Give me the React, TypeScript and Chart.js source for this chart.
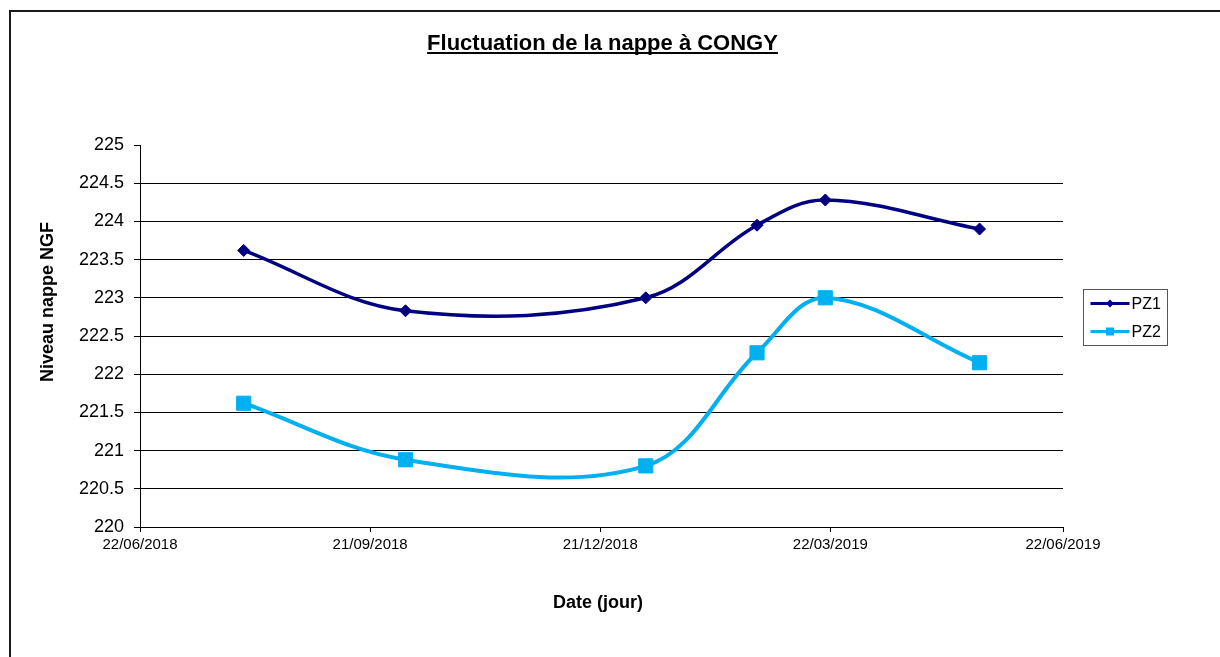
import React, { useEffect, useRef } from "react";
import { Chart, registerables } from "chart.js";

Chart.register(...registerables);

const TITLE = "Fluctuation de la nappe à CONGY";
const Y_TITLE = "Niveau nappe NGF";
const X_TITLE = "Date (jour)";

const dates = ["2018-08-02", "2018-10-05", "2019-01-08", "2019-02-21", "2019-03-20", "2019-05-20"];
const pz1 = [223.62, 222.83, 223.0, 223.95, 224.28, 223.9];
const pz2 = [221.62, 220.88, 220.8, 222.28, 223.0, 222.15];
const xTickDates = ["2018-06-22", "2018-09-21", "2018-12-21", "2019-03-22", "2019-06-22"];
const seriesNames = ["PZ1", "PZ2"];
const Y_MIN = 220;
const Y_MAX = 225;
const Y_STEP = 0.5;

const FONT = "'Liberation Sans', Arial, Helvetica, sans-serif";

function toMs(d: string): number {
  const [y, m, day] = d.split("-").map(Number);
  return Date.UTC(y, m - 1, day);
}
function fmt(ms: number): string {
  const d = new Date(ms);
  const dd = String(d.getUTCDate()).padStart(2, "0");
  const mm = String(d.getUTCMonth() + 1).padStart(2, "0");
  return `${dd}/${mm}/${d.getUTCFullYear()}`;
}

const decorPlugin = {
  id: "decor",
  beforeDraw(chart: any) {
    const ctx = chart.ctx;
    ctx.save();
    ctx.fillStyle = "#ffffff";
    ctx.fillRect(0, 0, chart.width, chart.height);
    ctx.strokeStyle = "#1a1a1a";
    ctx.lineWidth = 2;
    ctx.beginPath();
    ctx.moveTo(10, chart.height);
    ctx.lineTo(10, 11);
    ctx.lineTo(chart.width, 11);
    ctx.stroke();
    ctx.restore();
  },
  afterDraw(chart: any) {
    const ctx = chart.ctx;
    const area = chart.chartArea;
    ctx.save();
    ctx.fillStyle = "#000";
    // Title
    ctx.font = `bold 22px ${FONT}`;
    ctx.textAlign = "center";
    ctx.textBaseline = "alphabetic";
    const cx = (area.left + area.right) / 2 + 1;
    ctx.fillText(TITLE, cx, 50);
    const w = ctx.measureText(TITLE).width;
    ctx.fillRect(cx - w / 2, 52, w, 2);
    // X title
    ctx.font = `bold 18px ${FONT}`;
    ctx.textBaseline = "middle";
    ctx.fillText(X_TITLE, 598, 603);
    // Y title
    ctx.save();
    ctx.translate(48, 302);
    ctx.rotate(-Math.PI / 2);
    ctx.fillText(Y_TITLE, 0, 0);
    ctx.restore();
    // Legend
    const lx = 1083.5, ly = 289.5, lw = 84, lh = 56;
    ctx.strokeStyle = "#555";
    ctx.lineWidth = 1;
    ctx.strokeRect(lx, ly, lw, lh);
    chart.data.datasets.forEach((ds: any, i: number) => {
      const y = ly + 14 + i * 28;
      ctx.strokeStyle = ds.borderColor;
      ctx.lineWidth = 3;
      ctx.beginPath();
      ctx.moveTo(lx + 7, y);
      ctx.lineTo(lx + 46, y);
      ctx.stroke();
      ctx.fillStyle = ds.borderColor;
      const mx = lx + 26.5;
      if (i === 0) {
        ctx.beginPath();
        ctx.moveTo(mx, y - 4);
        ctx.lineTo(mx + 4, y);
        ctx.lineTo(mx, y + 4);
        ctx.lineTo(mx - 4, y);
        ctx.closePath();
        ctx.fill();
      } else {
        ctx.fillRect(mx - 4, y - 4, 8, 8);
      }
      ctx.fillStyle = "#000";
      ctx.font = `16px ${FONT}`;
      ctx.textAlign = "left";
      ctx.textBaseline = "middle";
      ctx.fillText(ds.label, lx + 48, y + 1);
    });
    ctx.restore();
  },
};

export default function App() {
  const ref = useRef<HTMLCanvasElement | null>(null);
  useEffect(() => {
    if (!ref.current) return;
    const xs = dates.map(toMs);
    const chart = new Chart(ref.current, {
      type: "line",
      data: {
        datasets: [
          {
            label: seriesNames[0],
            data: xs.map((x, i) => ({ x, y: pz1[i] })),
            borderColor: "#000080",
            backgroundColor: "#000080",
            borderWidth: 3.5,
            pointStyle: "rectRot",
            pointRadius: 6,
            pointBorderWidth: 1,
            tension: 0.36,
          },
          {
            label: seriesNames[1],
            data: xs.map((x, i) => ({ x, y: pz2[i] })),
            borderColor: "#00B0F0",
            backgroundColor: "#00B0F0",
            borderWidth: 4,
            pointStyle: "rect",
            pointRadius: 10,
            pointBorderWidth: 1,
            tension: 0.36,
          },
        ],
      },
      options: {
        responsive: false,
        animation: false,
        layout: { padding: { top: 145, right: 157, left: 0, bottom: 0 } },
        plugins: {
          legend: { display: false },
          title: { display: false },
          tooltip: { enabled: false },
        },
        scales: {
          x: {
            type: "linear",
            min: toMs(xTickDates[0]),
            max: toMs(xTickDates[xTickDates.length - 1]),
            afterBuildTicks: (scale: any) => {
              scale.ticks = xTickDates.map((d) => ({ value: toMs(d) }));
            },
            afterFit: (scale: any) => {
              scale.height = 130;
            },
            ticks: {
              autoSkip: false,
              maxRotation: 0,
              minRotation: 0,
              padding: 4,
              color: "#000",
              font: { family: FONT, size: 15 },
              callback: (v: any) => fmt(Number(v)),
            },
            grid: {
              drawOnChartArea: false,
              drawTicks: true,
              tickLength: 5,
              tickColor: "#000",
              color: "#000",
            },
            border: { display: true, color: "#000", width: 1 },
          },
          y: {
            type: "linear",
            min: Y_MIN,
            max: Y_MAX,
            afterFit: (scale: any) => {
              scale.width = 140;
            },
            ticks: {
              stepSize: Y_STEP,
              padding: 10,
              color: "#000",
              font: { family: FONT, size: 18 },
              callback: (v: any) => String(Number(v)),
            },
            grid: {
              color: (c: any) => (c.tick && c.tick.value === Y_MAX ? "rgba(0,0,0,0)" : "#000"),
              tickColor: "#000",
              tickLength: 6,
              lineWidth: 1,
            },
            border: { display: true, color: "#000", width: 1 },
          },
        },
      },
      plugins: [decorPlugin],
    } as any);
    return () => chart.destroy();
  }, []);
  return (
    <div style={{ position: "fixed", left: 0, top: 0, width: 1220, height: 657, background: "#fff" }}>
      <canvas ref={ref} width={1220} height={657} style={{ width: 1220, height: 657, display: "block" }} />
    </div>
  );
}
